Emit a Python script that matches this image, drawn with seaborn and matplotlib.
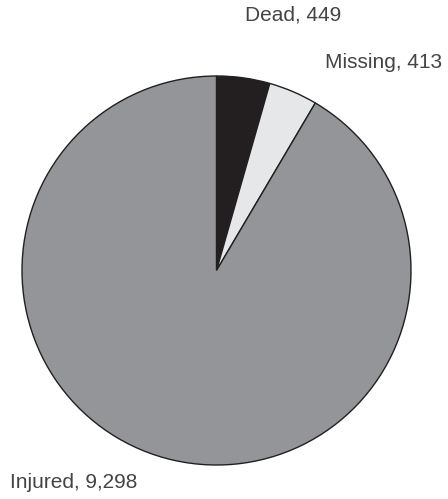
import matplotlib
matplotlib.use("Agg")
import matplotlib.pyplot as plt
import seaborn as sns

categories = ["Dead", "Missing", "Injured"]
values = [449, 413, 9298]
colors = ["#231f20", "#e6e7e8", "#939598"]

sns.set_theme(style="white")
plt.rcParams["font.family"] = ["Liberation Sans", "DejaVu Sans"]

W, H = 448, 499
fig = plt.figure(figsize=(W / 100, H / 100), dpi=100)
ax = fig.add_axes([0, 0, 1, 1])

cx, cy, r = 216.5, H - 270.5, 194.5
ax.pie(values, colors=colors, startangle=90, counterclock=False,
       center=(cx, cy), radius=r, frame=True,
       wedgeprops=dict(edgecolor="#231f20", linewidth=1.0))
ax.set_xlim(0, W)
ax.set_ylim(0, H)
ax.set_aspect("auto")
ax.axis("off")

label_pos = [(245, 15), (325, 62), (10, 482)]
for cat, v, (x, y) in zip(categories, values, label_pos):
    ax.text(x, H - y, f"{cat}, {v:,}", ha="left", va="center",
            fontsize=15, color="#444444")

fig.savefig("out.png", dpi=100)
